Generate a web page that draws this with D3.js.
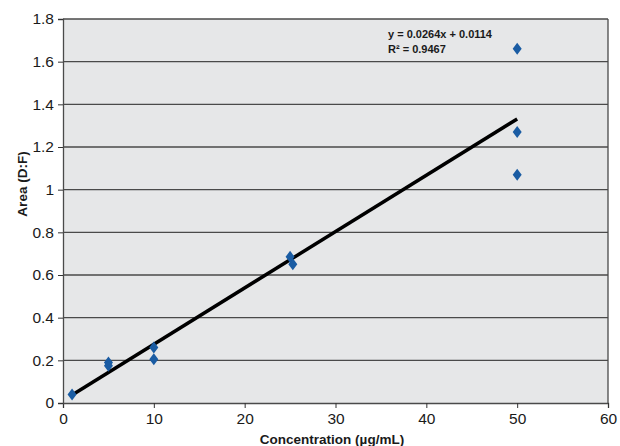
<!DOCTYPE html>
<html>
<head>
<meta charset="utf-8">
<script src="https://cdn.jsdelivr.net/npm/d3@7"></script>
<style>
  body { margin: 0; background: #fff; }
  text { font-family: "Liberation Sans", Arial, sans-serif; }
</style>
</head>
<body>
<div id="chart"></div>
<script>
var width = 620, height = 446;
var margin = {top: 19, right: 12, bottom: 43, left: 63};

// measured points
var concentration = [1, 5, 5, 10, 10, 25, 25.3, 50, 50, 50];
var area = [0.04, 0.19, 0.175, 0.26, 0.205, 0.685, 0.65, 1.66, 1.27, 1.07];
var slope = 0.0264, intercept = 0.0114;
var fitRange = [1, 50];
var xTicks = [0, 10, 20, 30, 40, 50, 60];
var yTicks = [0, 0.2, 0.4, 0.6, 0.8, 1, 1.2, 1.4, 1.6, 1.8];

var svg = d3.select("#chart").append("svg")
  .attr("width", width)
  .attr("height", height);

var x = d3.scaleLinear().domain([0, 60]).range([margin.left, width - margin.right]);
var y = d3.scaleLinear().domain([0, 1.8]).range([height - margin.bottom, margin.top]);

// plot background
svg.append("rect")
  .attr("x", x(0)).attr("y", y(1.8))
  .attr("width", x(60) - x(0)).attr("height", y(0) - y(1.8))
  .attr("fill", "#e6e7e8");

// horizontal grid
svg.append("g").selectAll("line").data(yTicks.slice(1))
  .enter().append("line")
  .attr("x1", x(0)).attr("x2", x(60))
  .attr("y1", function(d) { return y(d); })
  .attr("y2", function(d) { return y(d); })
  .attr("stroke", "#4a4a4a")
  .attr("stroke-width", 1.3);

// right border
svg.append("line")
  .attr("x1", x(60)).attr("x2", x(60))
  .attr("y1", y(0)).attr("y2", y(1.8))
  .attr("stroke", "#4a4a4a").attr("stroke-width", 1.3);

var xAxis = svg.append("g")
  .attr("transform", "translate(0," + y(0) + ")")
  .call(d3.axisBottom(x).tickValues(xTicks).tickSize(5).tickPadding(5).tickFormat(d3.format("d")));

var yAxis = svg.append("g")
  .attr("transform", "translate(" + x(0) + ",0)")
  .call(d3.axisLeft(y).tickValues(yTicks).tickSize(5).tickPadding(4).tickFormat(function(d) { return d3.format("")(+d.toFixed(1)); }));

[xAxis, yAxis].forEach(function(a) {
  a.select(".domain").attr("stroke", "#4a4a4a").attr("stroke-width", 1.3);
  a.selectAll(".tick line").attr("stroke", "#333").attr("stroke-width", 1);
  a.selectAll(".tick text").attr("fill", "#1a1a1a").style("font-size", "15.5px")
    .style("font-family", "'Liberation Sans', Arial, sans-serif");
});

// trend line
var line = d3.line()
  .x(function(d) { return x(d); })
  .y(function(d) { return y(slope * d + intercept); });

svg.append("path")
  .datum(fitRange)
  .attr("d", line)
  .attr("fill", "none")
  .attr("stroke", "#000")
  .attr("stroke-width", 3.5);

// diamond markers
var pts = concentration.map(function(c, i) { return [c, area[i]]; });
svg.append("g").selectAll("path").data(pts)
  .enter().append("path")
  .attr("d", "M0,-6L4.5,0L0,6L-4.5,0Z")
  .attr("transform", function(d) { return "translate(" + x(d[0]) + "," + y(d[1]) + ")"; })
  .attr("fill", "#1a5ca3");

// equation
var eq = svg.append("text")
  .attr("x", 388).attr("y", 38)
  .attr("font-size", 11).attr("font-weight", "bold").attr("fill", "#1a1a1a");
eq.append("tspan").attr("x", 388).text("y = " + slope + "x + " + intercept);
eq.append("tspan").attr("x", 388).attr("dy", 14.5).text("R² = 0.9467");

// axis titles
svg.append("text")
  .attr("x", 332).attr("y", 444)
  .attr("text-anchor", "middle")
  .attr("font-size", 13.5).attr("font-weight", "bold").attr("fill", "#1a1a1a")
  .text("Concentration (µg/mL)");

svg.append("text")
  .attr("transform", "translate(27,184) rotate(-90)")
  .attr("text-anchor", "middle")
  .attr("font-size", 13.5).attr("font-weight", "bold").attr("fill", "#1a1a1a")
  .text("Area (D:F)");
</script>
</body>
</html>
